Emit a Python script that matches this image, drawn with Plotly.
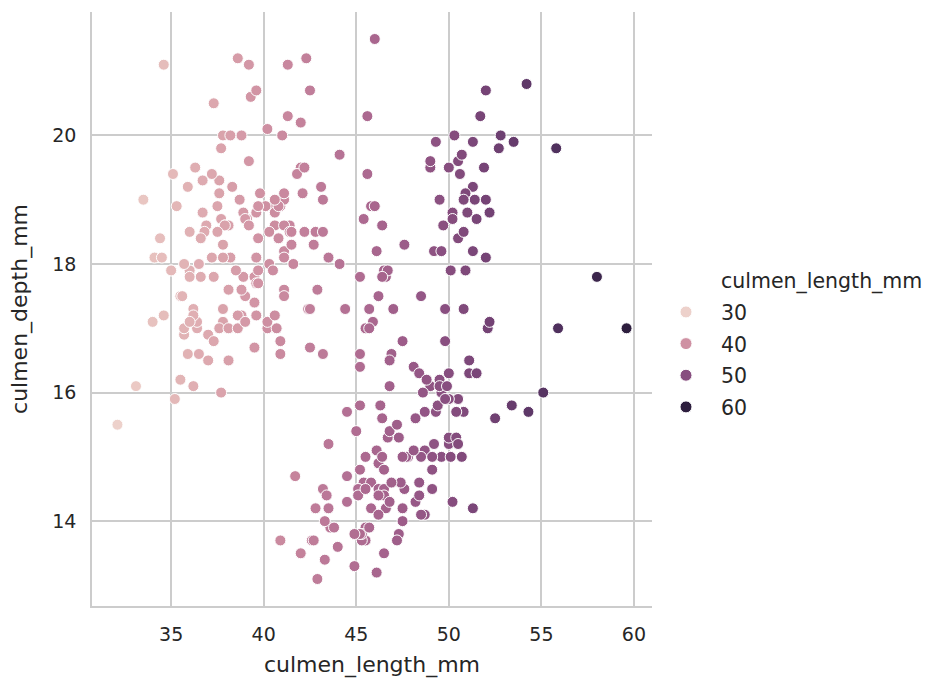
import numpy as np
import plotly.graph_objects as go

# Palmer penguins: culmen (bill) length and depth in mm
adelie_length = [39.1, 39.5, 40.3, 36.7, 39.3, 38.9, 39.2, 34.1, 42.0, 37.8, 37.8, 41.1, 38.6, 34.6, 36.6, 38.7,
                 42.5, 34.4, 46.0, 37.8, 37.7, 35.9, 38.2, 38.8, 35.3, 40.6, 40.5, 37.9, 40.5, 39.5, 37.2, 39.5,
                 40.9, 36.4, 39.2, 38.8, 42.2, 37.6, 39.8, 36.5, 40.8, 36.0, 44.1, 37.0, 39.6, 41.1, 37.5, 36.0,
                 42.3, 39.6, 40.1, 35.0, 42.0, 34.5, 41.4, 39.0, 40.6, 36.5, 37.6, 35.7, 41.3, 37.6, 41.1, 36.4,
                 41.6, 35.5, 41.1, 35.9, 41.8, 33.5, 39.7, 39.6, 45.8, 35.5, 42.8, 40.9, 37.2, 36.2, 42.1, 34.6,
                 42.9, 36.7, 35.1, 37.3, 41.3, 36.3, 36.9, 38.3, 38.9, 35.7, 41.1, 34.0, 39.6, 36.2, 40.8, 38.1,
                 40.3, 33.1, 43.2, 35.0, 41.0, 37.7, 37.8, 37.9, 39.7, 38.6, 38.2, 38.1, 43.2, 38.1, 45.6, 39.7,
                 42.2, 39.6, 42.7, 38.6, 37.3, 35.7, 41.1, 36.2, 37.7, 40.2, 41.4, 35.2, 40.6, 38.8, 41.5, 39.0,
                 44.1, 38.5, 43.1, 36.8, 37.5, 38.1, 41.1, 35.6, 40.2, 37.0, 39.7, 40.2, 40.6, 32.1, 40.7, 37.3,
                 39.0, 39.2, 36.6, 36.0, 37.8, 36.0, 41.5]
adelie_depth = [18.7, 17.4, 18.0, 19.3, 20.6, 17.8, 19.6, 18.1, 20.2, 17.1, 17.3, 17.6, 21.2, 21.1, 17.8, 19.0,
                20.7, 18.4, 21.5, 18.3, 18.7, 19.2, 18.1, 17.2, 18.9, 18.6, 17.9, 18.6, 18.9, 16.7, 18.1, 17.8,
                18.9, 17.0, 21.1, 20.0, 18.5, 19.3, 19.1, 18.0, 18.4, 18.5, 19.7, 16.9, 18.8, 19.0, 18.9, 17.9,
                21.2, 17.7, 18.9, 17.9, 19.5, 18.1, 18.6, 17.5, 18.8, 16.6, 19.1, 16.9, 21.1, 17.0, 18.2, 17.1,
                18.0, 16.2, 19.1, 16.6, 19.4, 19.0, 18.4, 17.2, 18.9, 17.5, 18.5, 16.8, 19.4, 16.1, 19.1, 17.2,
                17.6, 18.8, 19.4, 17.8, 20.3, 19.5, 18.6, 19.2, 18.8, 18.0, 18.1, 17.1, 18.1, 17.3, 18.9, 18.6,
                18.5, 16.1, 18.5, 17.9, 20.0, 16.0, 20.0, 18.6, 18.9, 17.2, 20.0, 17.0, 19.0, 16.5, 20.3, 17.7,
                19.5, 20.7, 18.3, 17.0, 20.5, 17.0, 18.6, 17.2, 19.8, 17.0, 18.5, 15.9, 19.0, 17.6, 18.3, 17.1,
                18.0, 17.9, 19.2, 18.5, 18.5, 17.6, 17.5, 17.5, 20.1, 16.5, 17.9, 17.1, 17.2, 15.5, 17.0, 16.8,
                18.7, 18.6, 18.4, 17.8, 18.1, 17.1, 18.5]

chinstrap_length = [46.5, 50.0, 51.3, 45.4, 52.7, 45.2, 46.1, 51.3, 46.0, 51.3, 46.6, 51.7, 47.0, 52.0, 45.9, 50.5,
                    50.3, 58.0, 46.4, 49.2, 42.4, 48.5, 43.2, 50.6, 46.7, 52.0, 50.5, 49.5, 46.4, 52.8, 40.9, 54.2,
                    42.5, 51.0, 49.7, 47.5, 47.6, 52.0, 46.9, 53.5, 49.0, 46.2, 50.9, 45.5, 50.9, 50.8, 50.1, 49.0,
                    51.5, 49.8, 48.1, 51.4, 45.7, 50.7, 42.5, 52.2, 45.2, 49.3, 50.2, 45.6, 51.9, 46.8, 45.7, 55.8,
                    43.5, 49.6, 50.8, 50.2]
chinstrap_depth = [17.9, 19.5, 19.2, 18.7, 19.8, 17.8, 18.2, 18.2, 18.9, 19.9, 17.8, 20.3, 17.3, 18.1, 17.1, 19.6,
                   20.0, 17.8, 18.6, 18.2, 17.3, 17.5, 16.6, 19.4, 17.9, 19.0, 18.4, 19.0, 17.8, 20.0, 16.6, 20.8,
                   16.7, 18.8, 18.6, 16.8, 18.3, 20.7, 16.6, 19.9, 19.5, 17.5, 19.1, 17.0, 17.9, 18.5, 17.9, 19.6,
                   18.7, 17.3, 16.4, 19.0, 17.3, 19.7, 17.3, 18.8, 16.6, 19.9, 18.8, 19.4, 19.5, 16.5, 17.0, 19.8,
                   18.1, 18.2, 19.0, 18.7]

gentoo_length = [46.1, 50.0, 48.7, 50.0, 47.6, 46.5, 45.4, 46.7, 43.3, 46.8, 40.9, 49.0, 45.5, 48.4, 45.8, 49.3,
                 42.0, 49.2, 46.2, 48.7, 50.2, 45.1, 46.5, 46.3, 42.9, 46.1, 44.5, 47.8, 48.2, 50.0, 47.3, 42.8,
                 45.1, 59.6, 49.1, 48.4, 42.6, 44.4, 44.0, 48.7, 42.7, 49.6, 45.3, 49.6, 50.5, 43.6, 45.5, 50.5,
                 44.9, 45.2, 46.6, 48.5, 45.1, 50.1, 46.5, 45.0, 43.8, 45.5, 43.2, 50.4, 45.3, 46.2, 45.7, 54.3,
                 45.8, 49.8, 46.2, 49.5, 43.5, 50.7, 47.7, 46.4, 48.2, 46.5, 46.4, 48.6, 47.5, 51.1, 45.2, 45.2,
                 49.1, 52.5, 47.4, 50.0, 44.9, 50.8, 43.4, 51.3, 47.5, 52.1, 47.5, 52.2, 45.5, 49.5, 44.5, 50.8,
                 49.4, 46.9, 48.4, 51.1, 48.5, 55.9, 47.2, 49.1, 47.3, 46.8, 41.7, 53.4, 43.3, 48.1, 50.5, 49.8,
                 43.5, 51.5, 46.2, 55.1, 44.5, 48.8, 47.2, 46.8, 50.4, 45.2, 49.9]
gentoo_depth = [13.2, 16.3, 14.1, 15.2, 14.5, 13.5, 14.6, 15.3, 13.4, 15.4, 13.7, 16.1, 13.7, 14.6, 14.6, 15.7,
                13.5, 15.2, 14.5, 15.1, 14.3, 14.5, 14.5, 15.8, 13.1, 15.1, 14.3, 15.0, 14.3, 15.3, 15.3, 14.2,
                14.5, 17.0, 14.8, 16.3, 13.7, 17.3, 13.6, 15.7, 13.7, 16.0, 13.7, 15.0, 15.9, 13.9, 13.9, 15.9,
                13.3, 15.8, 14.2, 14.1, 14.4, 15.0, 14.4, 15.4, 13.9, 15.0, 14.5, 15.3, 13.8, 14.9, 13.9, 15.7,
                14.2, 16.8, 14.4, 16.2, 14.2, 15.0, 15.0, 15.6, 15.6, 14.8, 15.0, 16.0, 14.2, 16.3, 13.8, 16.4,
                14.5, 15.6, 14.6, 15.9, 13.8, 17.3, 14.4, 14.2, 14.0, 17.0, 15.0, 17.1, 14.5, 16.1, 14.7, 15.7,
                15.8, 14.6, 14.4, 16.5, 15.0, 17.0, 15.5, 15.0, 13.8, 16.1, 14.7, 15.8, 14.0, 15.1, 15.2, 15.9,
                15.2, 16.3, 14.1, 16.0, 15.7, 16.2, 13.7, 14.3, 15.7, 14.8, 16.1]

legend_ticks = [30, 40, 50, 60]

culmen_length = adelie_length + chinstrap_length + gentoo_length
culmen_depth = adelie_depth + chinstrap_depth + gentoo_depth


def cubehelix(x, start=0.0, rot=0.4, gamma=1.0, hue=0.8):
    """Cubehelix colour at position x in [0, 1]."""
    xg = x ** gamma
    a = hue * xg * (1 - xg) / 2
    phi = 2 * np.pi * (start / 3 + rot * x)
    r = xg + a * (-0.14861 * np.cos(phi) + 1.78277 * np.sin(phi))
    g = xg + a * (-0.29227 * np.cos(phi) - 0.90649 * np.sin(phi))
    b = xg + a * (1.97294 * np.cos(phi))
    rgb = np.clip([r, g, b], 0, 1)
    return "rgb({:.0f},{:.0f},{:.0f})".format(*(rgb * 255))


def seq_color(t):
    # light (0.85) -> dark (0.15) sequential palette
    t = min(max(t, 0.0), 1.0)
    return cubehelix(0.85 - 0.7 * t)


colorscale = [[t, seq_color(t)] for t in np.linspace(0, 1, 33)]
vmin, vmax = min(culmen_length), max(culmen_length)

TEXT = "#262626"
GRID = "#cccccc"
FONT = "DejaVu Sans"

fig = go.Figure()
fig.add_trace(go.Scatter(
    x=culmen_length, y=culmen_depth, mode="markers", showlegend=False,
    marker=dict(size=11, color=culmen_length, colorscale=colorscale, cmin=vmin, cmax=vmax,
                line=dict(color="white", width=1)),
    hoverinfo="x+y",
))

# legend: the variable name as a marker-less header entry, then the hue levels
fig.add_trace(go.Scatter(x=[None], y=[None], mode="markers", name="culmen_length_mm",
                         legendgroup="h", marker=dict(size=11, color="rgba(0,0,0,0)")))
for v in legend_ticks:
    fig.add_trace(go.Scatter(
        x=[None], y=[None], mode="markers", name=str(v), legendgroup=str(v),
        marker=dict(size=12, color=seq_color((v - vmin) / (vmax - vmin)),
                    line=dict(color="white", width=1)),
    ))

pad_x = 0.05 * (vmax - vmin)
ymin, ymax = min(culmen_depth), max(culmen_depth)
pad_y = 0.05 * (ymax - ymin)

axis_common = dict(
    showgrid=True, gridcolor=GRID, gridwidth=1.5, zeroline=False,
    showline=True, linecolor=GRID, linewidth=1.5,
    ticks="outside", tickcolor="rgba(0,0,0,0)", ticklen=10,
    tickfont=dict(family=FONT, size=19, color=TEXT),
)

fig.update_layout(
    width=945, height=684,
    margin=dict(l=92, r=293, t=12, b=78),
    plot_bgcolor="white", paper_bgcolor="white",
    font=dict(family=FONT, color=TEXT),
    xaxis=dict(range=[vmin - pad_x, vmax + pad_x], dtick=5,
               title=dict(text="culmen_length_mm", font=dict(family=FONT, size=22, color=TEXT), standoff=13),
               **axis_common),
    yaxis=dict(range=[ymin - pad_y, ymax + pad_y], dtick=2,
               title=dict(text="culmen_depth_mm", font=dict(family=FONT, size=22, color=TEXT), standoff=19),
               **axis_common),
    legend=dict(x=0.9982, xanchor="left", y=0.5817, yanchor="top",
                font=dict(family=FONT, size=20.5, color=TEXT), itemwidth=60,
                tracegroupgap=2, bgcolor="rgba(0,0,0,0)", itemclick=False),
)

fig.write_html("out.html")
